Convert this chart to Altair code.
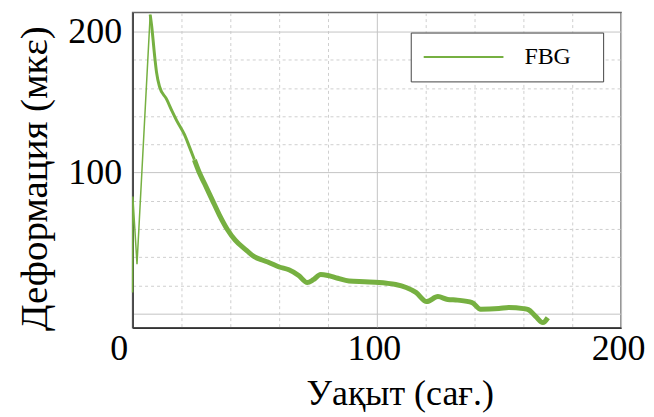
import altair as alt
import pandas as pd

# Time (hours) and strain (microstrain)
time_h = [0, 0.1, 1.8, 7.2, 7.8, 9.0, 9.8, 11, 13.9, 16.3, 18, 21.2, 23.3, 25.3,
          27.3, 29.5, 32.5, 35.5, 38.8, 42, 46.5, 49.8, 53, 56, 60, 64, 68, 71.5,
          74, 77, 80, 84, 88.6, 95, 101, 104, 107.7, 112, 116, 120.4, 125, 129,
          133, 139, 142.5, 150, 154, 160, 162, 165, 168, 170]
strain = [15, 83, 35, 212, 204, 183, 171, 161, 152, 143, 137, 127, 118, 109,
          100, 92, 81, 70, 59.6, 52, 45, 40.3, 38, 36, 33, 31, 27, 22,
          24, 27.7, 27, 25, 23, 22.5, 22, 21.5, 20.6, 18.5, 15, 8.5, 12, 10,
          9.5, 7.8, 3, 3.5, 4.3, 3.5, 2.8, -2, -6.4, -3]
series_name = "FBG"

x_ticks = list(range(0, 201, 20))
y_ticks = list(range(0, 201, 20))

df = pd.DataFrame({"t": time_h, "v": strain, "s": series_name})

FONT = "Liberation Serif"
GREEN = "#76b041"

grid_dash = {"condition": {"test": "datum.value % 100 == 0", "value": []}, "value": [3, 3]}
grid_color = {"condition": {"test": "datum.value % 100 == 0", "value": "#c4c4c4"}, "value": "#cfcfcf"}

x_axis = alt.Axis(
    values=x_ticks, ticks=False, grid=True,
    gridDash=grid_dash, gridColor=grid_color, gridWidth=1,
    labelExpr="datum.value % 100 == 0 ? datum.label : ''",
    labelFlush=False, labelAlign="center",
    labelOffset={"condition": {"test": "datum.value == 0", "value": -14}, "value": -3},
    labelFont=FONT, labelFontSize=36, labelColor="black", labelPadding=4,
    title="Уақыт (сағ.)", titleFont=FONT, titleFontSize=36, titleFontWeight="normal",
    titleColor="black", titleX=268, titleY=77, titleAlign="center", titleBaseline="alphabetic",
    domainColor="#333", domainWidth=1.5,
)

y_axis = alt.Axis(
    values=y_ticks, ticks=False, grid=True,
    gridDash=grid_dash, gridColor=grid_color, gridWidth=1,
    labelExpr="datum.value % 100 == 0 && datum.value > 0 ? datum.label : ''",
    labelFont=FONT, labelFontSize=36, labelColor="black", labelPadding=11,
    title="Деформация (мкε)", titleFont=FONT, titleFontSize=39, titleFontWeight="normal",
    titleColor="black", titleX=-86, titleY=166, titleAlign="center", titleBaseline="alphabetic",
    domainColor="#333", domainWidth=1.5,
)

legend = alt.Legend(
    title="\u00a0", titleOrient="right", titlePadding=20, titleFontSize=24,
    orient="none", legendX=279, legendY=20, padding=12,
    strokeColor="#444", fillColor="white",
    symbolType="stroke", symbolSize=6400, symbolStrokeWidth=2, clipHeight=25,
    labelFont=FONT, labelFontSize=24, labelColor="black", labelOffset=20,
)

base = alt.Chart(df).encode(
    x=alt.X("t:Q", scale=alt.Scale(domain=[0, 200], nice=False), axis=x_axis),
    y=alt.Y("v:Q", scale=alt.Scale(domain=[-10, 213.4], nice=False, zero=False), axis=y_axis),
    color=alt.Color("s:N", scale=alt.Scale(range=[GREEN]), legend=legend),
    order="t:Q",
)

thin = base.mark_line(strokeWidth=1.5).transform_filter("datum.t <= 7.2")
mid = base.mark_line(strokeWidth=3, interpolate="monotone").transform_filter(
    "datum.t >= 7.2 && datum.t <= 25.3")
thick = base.mark_line(strokeWidth=5, interpolate="monotone").transform_filter("datum.t >= 25.3")

chart = alt.layer(thin, mid, thick).properties(
    width=490, height=316,
    padding={"left": 125, "top": 4, "right": 25, "bottom": 85},
    autosize=alt.AutoSizeParams(type="none"),
).configure_view(stroke="#666", strokeWidth=1.5)

chart.save("out.html", embed_options={"renderer": "svg", "actions": False})
